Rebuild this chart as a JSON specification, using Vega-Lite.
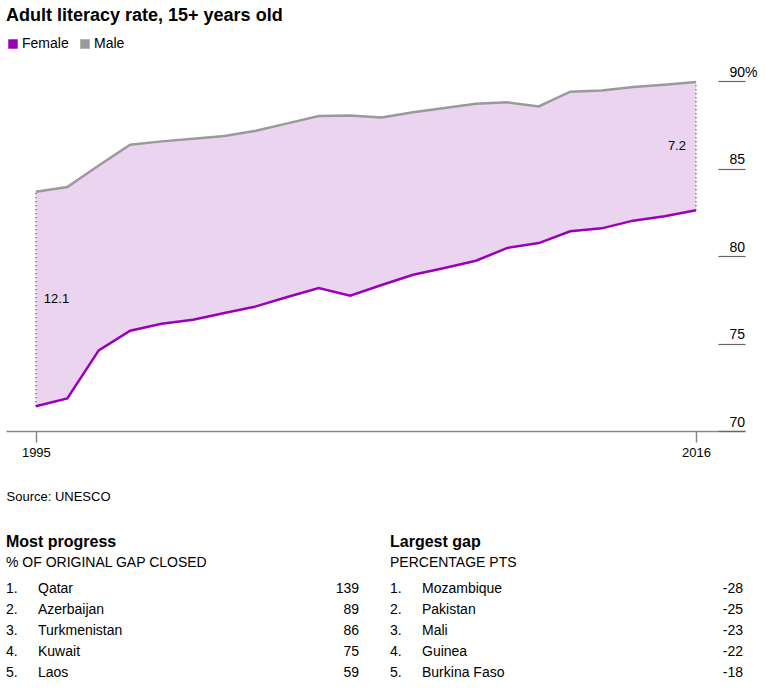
{
  "$schema": "https://vega.github.io/schema/vega-lite/v6.json",
  "background": "white",
  "padding": {"left": 6, "top": 7, "right": 10, "bottom": 10},
  "config": {"font": "Liberation Sans", "view": {"stroke": null}},
  "title": {"text": "Adult literacy rate, 15+ years old", "anchor": "start", "fontSize": 18, "fontWeight": "bold", "color": "#000", "offset": 12},
  "datasets": {
    "literacy": [
      {"year": 1995, "Female": 71.41, "Male": 83.67},
      {"year": 1996, "Female": 71.86, "Male": 83.94},
      {"year": 1997, "Female": 74.61, "Male": 85.17},
      {"year": 1998, "Female": 75.73, "Male": 86.36},
      {"year": 1999, "Female": 76.13, "Male": 86.55},
      {"year": 2000, "Female": 76.36, "Male": 86.70},
      {"year": 2001, "Female": 76.74, "Male": 86.86},
      {"year": 2002, "Female": 77.12, "Male": 87.16},
      {"year": 2003, "Female": 77.66, "Male": 87.58},
      {"year": 2004, "Female": 78.17, "Male": 88.00},
      {"year": 2005, "Female": 77.73, "Male": 88.03},
      {"year": 2006, "Female": 78.34, "Male": 87.92},
      {"year": 2007, "Female": 78.93, "Male": 88.21},
      {"year": 2008, "Female": 79.31, "Male": 88.46},
      {"year": 2009, "Female": 79.73, "Male": 88.70},
      {"year": 2010, "Female": 80.46, "Male": 88.78},
      {"year": 2011, "Female": 80.74, "Male": 88.55},
      {"year": 2012, "Female": 81.41, "Male": 89.39},
      {"year": 2013, "Female": 81.58, "Male": 89.46},
      {"year": 2014, "Female": 82.02, "Male": 89.66},
      {"year": 2015, "Female": 82.27, "Male": 89.79},
      {"year": 2016, "Female": 82.61, "Male": 89.94}
    ],
    "gaps": [
      {"year": 1995, "gap": "12.1"},
      {"year": 2016, "gap": "7.2"}
    ],
    "progress": [
      {"rank": 1, "country": "Qatar", "value": 139},
      {"rank": 2, "country": "Azerbaijan", "value": 89},
      {"rank": 3, "country": "Turkmenistan", "value": 86},
      {"rank": 4, "country": "Kuwait", "value": 75},
      {"rank": 5, "country": "Laos", "value": 59}
    ],
    "largest": [
      {"rank": 1, "country": "Mozambique", "value": -28},
      {"rank": 2, "country": "Pakistan", "value": -25},
      {"rank": 3, "country": "Mali", "value": -23},
      {"rank": 4, "country": "Guinea", "value": -22},
      {"rank": 5, "country": "Burkina Faso", "value": -18}
    ]
  },
  "vconcat": [
    {
      "width": 739,
      "height": 350,
      "data": {"name": "literacy"},
      "layer": [
        {
          "mark": {"type": "area", "color": "#ebd4f0", "opacity": 1},
          "encoding": {
            "x": {"field": "year", "type": "quantitative",
              "scale": {"domain": [1994.05, 2017.56], "nice": false, "zero": false},
              "axis": {"values": [1995, 2016], "format": "d", "grid": false, "domainColor": "#888", "domainWidth": 1.5, "tickColor": "#888", "tickWidth": 1.5, "tickSize": 11, "labelFontSize": 13, "labelColor": "#000", "labelPadding": 4, "labelFlush": false, "title": "Source: UNESCO", "titleAnchor": "start", "titleAlign": "left", "titleFontSize": 13, "titleFontWeight": "normal", "titleColor": "#000", "titlePadding": 31}},
            "y": {"field": "Female", "type": "quantitative",
              "scale": {"domain": [70, 90], "nice": false, "zero": false},
              "axis": {"orient": "right", "values": [70, 75, 80, 85, 90], "domain": false, "grid": false, "tickSize": -27, "tickColor": "#666", "tickWidth": 1.2, "labelAlign": "left", "labelBaseline": "alphabetic", "labelPadding": 11, "labelOffset": -5, "labelFontSize": 14, "labelColor": "#000", "labelFlush": false, "labelOverlap": false, "labelBound": false, "labelExpr": "datum.value == 90 ? '90%' : datum.label", "title": null}},
            "y2": {"field": "Male"}
          }
        },
        {
          "transform": [{"filter": "datum.year == 1995 || datum.year == 2016"}],
          "mark": {"type": "rule", "color": "#6a6470", "strokeWidth": 1.3, "strokeDash": [1.3, 2.7]},
          "encoding": {
            "x": {"field": "year", "type": "quantitative"},
            "y": {"field": "Female", "type": "quantitative"},
            "y2": {"field": "Male"}
          }
        },
        {
          "transform": [{"fold": ["Female", "Male"], "as": ["series", "rate"]}],
          "mark": {"type": "point", "shape": "square", "filled": true, "size": 0, "opacity": 1},
          "encoding": {
            "x": {"field": "year", "type": "quantitative"},
            "y": {"field": "rate", "type": "quantitative"},
            "color": {"field": "series", "type": "nominal",
              "scale": {"domain": ["Female", "Male"], "range": ["#9a00b8", "#9a9a9a"]},
              "legend": {"title": null, "orient": "none", "legendX": 0, "legendY": -44, "direction": "horizontal", "symbolType": "square", "symbolSize": 90, "symbolStrokeWidth": 0, "symbolOpacity": 1, "labelFontSize": 14, "labelColor": "#000", "columnPadding": 9, "labelOffset": 2, "padding": 0}}
          }
        },
        {
          "transform": [{"fold": ["Female", "Male"], "as": ["series", "rate"]}],
          "mark": {"type": "line", "strokeWidth": 2.5},
          "encoding": {
            "x": {"field": "year", "type": "quantitative"},
            "y": {"field": "rate", "type": "quantitative"},
            "stroke": {"field": "series", "type": "nominal",
              "scale": {"domain": ["Female", "Male"], "range": ["#9a00b8", "#9a9a9a"]},
              "legend": null}
          }
        },
        {
          "data": {"name": "gaps"},
          "transform": [
            {"lookup": "year", "from": {"data": {"name": "literacy"}, "key": "year", "fields": ["Female", "Male"]}},
            {"calculate": "(datum.Female + datum.Male) / 2", "as": "mid"},
            {"filter": "datum.year == 1995"}
          ],
          "mark": {"type": "text", "align": "left", "baseline": "middle", "dx": 8, "fontSize": 13, "color": "#000"},
          "encoding": {
            "x": {"field": "year", "type": "quantitative"},
            "y": {"field": "mid", "type": "quantitative"},
            "text": {"field": "gap"}
          }
        },
        {
          "data": {"name": "gaps"},
          "transform": [
            {"lookup": "year", "from": {"data": {"name": "literacy"}, "key": "year", "fields": ["Female", "Male"]}},
            {"calculate": "(datum.Female + datum.Male) / 2", "as": "mid"},
            {"filter": "datum.year == 2016"}
          ],
          "mark": {"type": "text", "align": "right", "baseline": "middle", "dx": -10, "fontSize": 13, "color": "#000"},
          "encoding": {
            "x": {"field": "year", "type": "quantitative"},
            "y": {"field": "mid", "type": "quantitative"},
            "text": {"field": "gap"}
          }
        }
      ]
    },
    {
      "hconcat": [
        {
          "width": 353,
          "height": 104,
          "data": {"name": "progress"},
          "title": {"text": "Most progress", "subtitle": "% OF ORIGINAL GAP CLOSED", "anchor": "start", "frame": "group", "fontSize": 16, "fontWeight": "bold", "color": "#000", "subtitleFontSize": 14, "subtitleColor": "#000", "subtitlePadding": 6, "offset": 9},
          "transform": [{"calculate": "datum.rank + '.'", "as": "rankLabel"}],
          "encoding": {
            "y": {"field": "rank", "type": "ordinal", "axis": null, "scale": {"type": "band", "paddingInner": 0, "paddingOuter": 0}}
          },
          "layer": [
            {"mark": {"type": "text", "align": "left", "baseline": "middle", "fontSize": 14, "color": "#000"},
             "encoding": {"x": {"value": 0}, "text": {"field": "rankLabel"}}},
            {"mark": {"type": "text", "align": "left", "baseline": "middle", "fontSize": 14, "color": "#000", "dx": 32},
             "encoding": {"x": {"value": 0}, "text": {"field": "country"}}},
            {"mark": {"type": "text", "align": "right", "baseline": "middle", "fontSize": 14, "color": "#000"},
             "encoding": {"x": {"value": "width"}, "text": {"field": "value", "type": "nominal"}}}
          ]
        },
        {
          "width": 353,
          "height": 104,
          "data": {"name": "largest"},
          "title": {"text": "Largest gap", "subtitle": "PERCENTAGE PTS", "anchor": "start", "frame": "group", "fontSize": 16, "fontWeight": "bold", "color": "#000", "subtitleFontSize": 14, "subtitleColor": "#000", "subtitlePadding": 6, "offset": 9},
          "transform": [{"calculate": "datum.rank + '.'", "as": "rankLabel"}],
          "encoding": {
            "y": {"field": "rank", "type": "ordinal", "axis": null, "scale": {"type": "band", "paddingInner": 0, "paddingOuter": 0}}
          },
          "layer": [
            {"mark": {"type": "text", "align": "left", "baseline": "middle", "fontSize": 14, "color": "#000"},
             "encoding": {"x": {"value": 0}, "text": {"field": "rankLabel"}}},
            {"mark": {"type": "text", "align": "left", "baseline": "middle", "fontSize": 14, "color": "#000", "dx": 32},
             "encoding": {"x": {"value": 0}, "text": {"field": "country"}}},
            {"mark": {"type": "text", "align": "right", "baseline": "middle", "fontSize": 14, "color": "#000"},
             "encoding": {"x": {"value": "width"}, "text": {"field": "value", "type": "nominal"}}}
          ]
        }
      ],
      "spacing": 31
    }
  ],
  "spacing": 31
}
